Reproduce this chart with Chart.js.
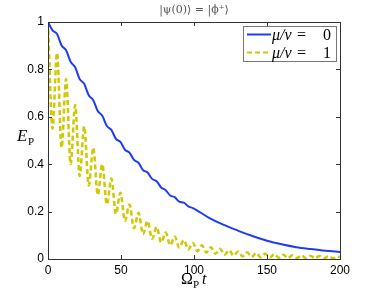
<!DOCTYPE html>
<html>
<head>
<meta charset="utf-8">
<script src="https://cdn.jsdelivr.net/npm/chart.js@4.4.1/dist/chart.umd.min.js"></script>
<style>
  html, body { margin: 0; padding: 0; background: #fff; }
  #wrap { width: 374px; height: 292px; }
</style>
</head>
<body>
<div id="wrap"><canvas id="epChart" width="374" height="292"></canvas></div>
<script>
// curve for mu/nu = 0 (slow decay with small ripples)
const blueT = [0, 3.1, 6.2, 9.3, 12.4, 15.5, 18.6, 21.7, 24.8, 27.9, 31, 34.1, 37.2, 40.3, 43.4, 46.5, 49.6, 52.7, 55.8, 58.9,
  62, 65.1, 68.2, 71.3, 74.4, 77.5, 80.6, 83.7, 86.8, 89.9, 93, 96.1, 99.2, 110, 120, 130, 140, 150, 160, 170, 180, 190, 200];
const blueE = [1.0, 0.965, 0.949, 0.901, 0.881, 0.832, 0.809, 0.759, 0.739, 0.691, 0.670, 0.624, 0.604, 0.561, 0.545, 0.507, 0.494, 0.461, 0.449, 0.418,
  0.406, 0.375, 0.365, 0.338, 0.328, 0.302, 0.290, 0.268, 0.261, 0.242, 0.238, 0.222, 0.215, 0.175, 0.145, 0.12, 0.097, 0.077, 0.062, 0.05, 0.042, 0.035, 0.03];

// curve for mu/nu = 1 (oscillating), read at its peaks and troughs
const yellowT = [0, 3.1, 6.2, 9.3, 12.4, 15.5, 18.6, 21.7, 24.8, 27.9, 31, 34.1, 37.2, 40.3, 43.4, 46.5, 49.6, 52.7, 55.8, 58.9,
  62, 65.1, 68.2, 71.3, 74.4, 77.5, 80.6, 83.7, 86.8, 89.9, 93, 96.1, 99.2, 102.3, 105.4, 108.5, 111.6, 114.7, 117.8, 120.9,
  124, 127.1, 130.2, 133.3, 136.4, 139.5, 142.6, 145.7, 148.8, 151.9, 155, 158.1, 161.2, 164.3, 167.4, 170.5, 173.6, 176.7,
  179.8, 182.9, 186, 189.1, 192.2, 195.3, 198.4, 200];
const yellowE = [1.0, 0.55, 0.87, 0.47, 0.76, 0.40, 0.65, 0.35, 0.56, 0.31, 0.47, 0.27, 0.40, 0.23, 0.34, 0.19, 0.28, 0.16, 0.23, 0.13,
  0.195, 0.105, 0.16, 0.085, 0.135, 0.07, 0.112, 0.058, 0.095, 0.048, 0.08, 0.04, 0.068, 0.033, 0.058, 0.027, 0.05, 0.022, 0.043, 0.018,
  0.037, 0.014, 0.032, 0.011, 0.028, 0.009, 0.025, 0.007, 0.022, 0.006, 0.02, 0.005, 0.018, 0.004, 0.016, 0.004, 0.015, 0.003,
  0.014, 0.003, 0.013, 0.003, 0.012, 0.003, 0.011, 0.008];

const xTicks = [0, 50, 100, 150, 200];
const yTicks = [0, 0.2, 0.4, 0.6, 0.8, 1];
const seriesLabels = ['\u03bc/\u03bd =  0', '\u03bc/\u03bd =  1'];
const legendValues = ['0', '1'];

const BLUE = '#1f3cf5';
const YELLOW = '#d0c800';

function pairs(xs, ys) {
    return xs.map((x, i) => ({ x: x, y: ys[i] }));
}

// box, inward ticks, texts with subscripts, legend
const framePlugin = {
    id: 'frame',
    afterDraw(chart) {
        const ctx = chart.ctx;
        const a = chart.chartArea;
        const xs = chart.scales.x, ys = chart.scales.y;
        ctx.save();
        ctx.strokeStyle = '#333';
        ctx.lineWidth = 1;
        ctx.strokeRect(Math.round(a.left) + 0.5, Math.round(a.top) + 0.5, Math.round(a.right - a.left), Math.round(a.bottom - a.top));
        ctx.beginPath();
        xTicks.forEach(v => {
            const px = Math.round(xs.getPixelForValue(v)) + 0.5;
            ctx.moveTo(px, a.bottom); ctx.lineTo(px, a.bottom - 4);
            ctx.moveTo(px, a.top); ctx.lineTo(px, a.top + 4);
        });
        yTicks.forEach(v => {
            const py = Math.round(ys.getPixelForValue(v)) + 0.5;
            ctx.moveTo(a.left, py); ctx.lineTo(a.left + 4, py);
            ctx.moveTo(a.right, py); ctx.lineTo(a.right - 4, py);
        });
        ctx.stroke();

        // title
        ctx.fillStyle = '#555';
        ctx.font = '11px "DejaVu Serif"';
        ctx.textAlign = 'center';
        ctx.textBaseline = 'alphabetic';
        ctx.fillText('|\u03c8(0)\u27e9 = |\u03d5\u207a\u27e9', 194, 13);

        // y label E_P
        ctx.fillStyle = '#000';
        ctx.textAlign = 'left';
        ctx.font = 'italic 17px "Liberation Serif"';
        ctx.fillText('E', 17, 141);
        ctx.font = '11px "Liberation Serif"';
        ctx.fillText('P', 28, 145);

        // x label Omega_P t
        ctx.font = '16px "Liberation Serif"';
        ctx.fillText('\u03a9', 181, 284);
        ctx.font = '11px "Liberation Serif"';
        ctx.fillText('P', 193, 288);
        ctx.font = 'italic 16px "Liberation Serif"';
        ctx.fillText('t', 202, 284);

        // legend
        const lx = 243, ly = 26, lw = 93, lh = 35;
        ctx.fillStyle = '#fff';
        ctx.fillRect(lx, ly, lw, lh);
        ctx.strokeStyle = '#777';
        ctx.strokeRect(lx + 0.5, ly + 0.5, lw, lh);
        chart.data.datasets.forEach((ds, i) => {
            const yy = 34.5 + i * 18;
            ctx.beginPath();
            ctx.strokeStyle = ds.borderColor;
            ctx.lineWidth = 2;
            ctx.setLineDash(ds.borderDash || []);
            ctx.moveTo(247, yy); ctx.lineTo(271, yy);
            ctx.stroke();
            ctx.setLineDash([]);
            ctx.fillStyle = '#000';
            ctx.textBaseline = 'middle';
            ctx.font = 'italic 16px "Liberation Serif"';
            ctx.fillText('\u03bc/\u03bd', 272, yy + 1);
            ctx.font = '16px "Liberation Serif"';
            ctx.fillText('=', 297, yy + 1);
            ctx.fillText(legendValues[i], 323, yy + 1);
        });
        ctx.restore();
    }
};

const ctx = document.getElementById('epChart').getContext('2d');
const epChart = new Chart(ctx, {
    type: 'line',
    data: {
        datasets: [{
            label: seriesLabels[0],
            data: pairs(blueT, blueE),
            borderColor: BLUE,
            borderWidth: 2,
            pointRadius: 0,
            cubicInterpolationMode: 'monotone',
            fill: false
        }, {
            label: seriesLabels[1],
            data: pairs(yellowT, yellowE),
            borderColor: YELLOW,
            borderWidth: 2.5,
            borderDash: [5, 3],
            pointRadius: 0,
            cubicInterpolationMode: 'monotone',
            fill: false
        }]
    },
    options: {
        responsive: false,
        animation: false,
        layout: { padding: { top: 22, right: 34, left: 0, bottom: 0 } },
        plugins: {
            legend: { display: false },
            tooltip: { enabled: false }
        },
        scales: {
            x: {
                type: 'linear',
                min: 0,
                max: 200,
                afterBuildTicks: s => { s.ticks = xTicks.map(v => ({ value: v })); },
                afterFit: s => { s.height = 33; },
                grid: { display: false, drawTicks: false, tickLength: 0 },
                border: { display: false },
                ticks: { color: '#000', font: { family: 'Liberation Sans', size: 12 }, padding: 4, maxRotation: 0 }
            },
            y: {
                min: 0,
                max: 1,
                afterBuildTicks: s => { s.ticks = yTicks.map(v => ({ value: v })); },
                afterFit: s => { s.width = 48; },
                grid: { display: false, drawTicks: false, tickLength: 0 },
                border: { display: false },
                ticks: {
                    color: '#000',
                    font: { family: 'Liberation Sans', size: 12 },
                    padding: 4,
                    callback: v => String(Math.round(v * 10) / 10)
                }
            }
        }
    },
    plugins: [framePlugin]
});
</script>
</body>
</html>
